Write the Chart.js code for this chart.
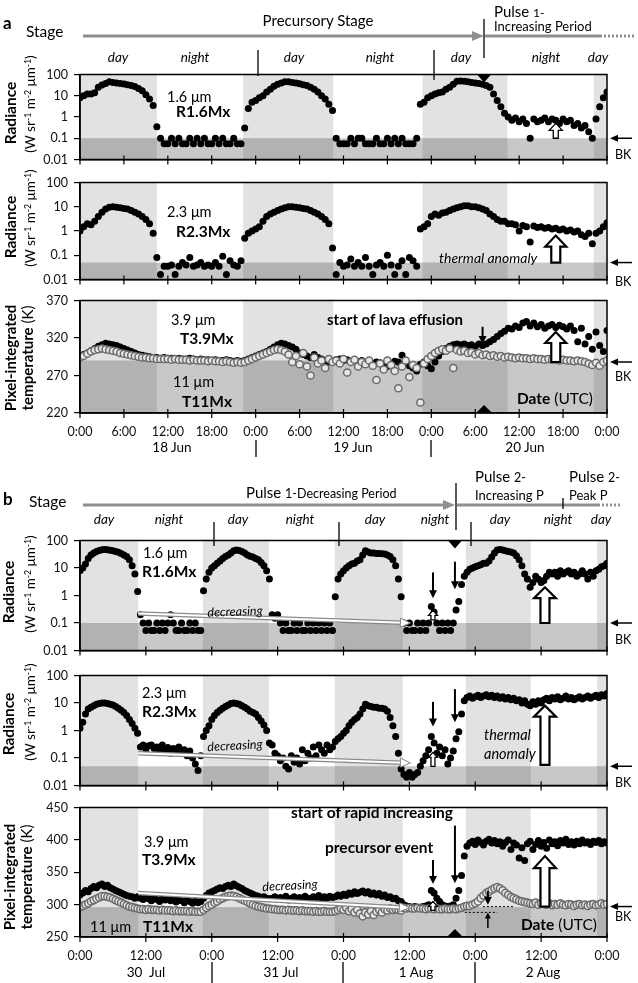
<!DOCTYPE html>
<html>
<head>
<meta charset="utf-8">
<title>Radiance and temperature time series</title>
<style>
  body { margin: 0; background: #fff; }
  #page { position: relative; width: 638px; height: 983px; overflow: hidden; font-family: Lato, 'Open Sans', sans-serif; color: #000; }
  #page canvas { position: absolute; left: 0; }
  .t { position: absolute; white-space: nowrap; line-height: 1; z-index: 5; }
  #lines { position: absolute; left: 0; top: 0; z-index: 4; }
  sup { font-size: 0.65em; vertical-align: 0.45em; line-height: 0; }
</style>
<script src="https://cdn.jsdelivr.net/npm/chart.js"></script>
</head>
<body>
<div id="page">
  <canvas id="a1"></canvas>
  <canvas id="a2"></canvas>
  <canvas id="a3"></canvas>
  <canvas id="b1"></canvas>
  <canvas id="b2"></canvas>
  <canvas id="b3"></canvas>
  <svg id="lines" width="638" height="983">
    <g stroke="#8f8f8f" stroke-width="3" fill="none">
      <line x1="83" y1="36" x2="475" y2="36"/>
      <line x1="485" y1="36" x2="600" y2="36"/>
      <line x1="600" y1="36" x2="636" y2="36" stroke-dasharray="2 2"/>
      <line x1="83" y1="505" x2="446" y2="505"/>
      <line x1="457" y1="505" x2="598" y2="505"/>
      <line x1="598" y1="505" x2="622" y2="505" stroke-dasharray="2 2"/>
    </g>
    <g fill="#8f8f8f">
      <polygon points="484,36 472,31 472,41"/>
      <polygon points="455,505 443,500 443,510"/>
    </g>
    <g stroke="#000" stroke-width="1.3">
      <line x1="484" y1="19" x2="484" y2="58"/>
      <line x1="258" y1="50" x2="258" y2="76"/>
      <line x1="434" y1="50" x2="434" y2="80"/>
      <line x1="256" y1="440" x2="256" y2="457"/>
      <line x1="431" y1="440" x2="431" y2="457"/>
      <line x1="456" y1="483" x2="456" y2="530"/>
      <line x1="563" y1="498" x2="563" y2="509"/>
      <line x1="214" y1="522" x2="214" y2="546"/>
      <line x1="339" y1="522" x2="339" y2="546"/>
      <line x1="471" y1="522" x2="471" y2="546"/>
      <line x1="212" y1="962" x2="212" y2="984"/>
      <line x1="343" y1="962" x2="343" y2="984"/>
      <line x1="475" y1="962" x2="475" y2="984"/>
    </g>
  </svg>
</div>

<script>
// ---- axes / periods ----
const stepH = 0.5; // hours between samples
const dayA = [[0, 10.5], [22.3, 34.6], [46.8, 58.4], [70.2, 72]];
const dayB = [[0, 10.6], [22.4, 34.4], [46.4, 58.8], [70.3, 82.1], [94.2, 96]];
const timeTicksA = ['0:00', '6:00', '12:00', '18:00', '0:00', '6:00', '12:00', '18:00', '0:00', '6:00', '12:00', '18:00', '0:00'];
const timeTicksB = ['0:00', '12:00', '0:00', '12:00', '0:00', '12:00', '0:00', '12:00', '0:00'];
const radTicks = [0.01, 0.1, 1, 10, 100];
const tempTicksA = [220, 270, 320, 370];
const tempTicksB = [250, 300, 350, 400, 450];

// ---- (a) 18-20 Jun, every 30 min ----
const r16a = [
  8, 10, 12, 12, 14, 25, 32, 38, 45, 42, 40, 38, 36, 33, 30, 27, 22, 17, 11, 7, 3.5, 0.35,
  0.1, 0.055, 0.055, 0.1, 0.055, 0.1, 0.055, 0.055, 0.1, 0.055, 0.1, 0.055, 0.1, 0.055, 0.055, 0.1, 0.055, 0.1, 0.055, 0.055, 0.1, 0.055, 0.055,
  0.3, 2.5, 5, 6, 8, 10, 15, 20, 28, 35, 40, 45, 45, 42, 40, 37, 33, 30, 25, 20, 15, 10, 7, 4, 2,
  0.1, 0.055, 0.055, 0.055, 0.1, 0.055, 0.1, 0.1, 0.055, 0.055, 0.055, 0.1, 0.055, 0.055, 0.1, 0.055, 0.1, 0.055, 0.1, 0.055, 0.055, 0.055, 0.1, 4,
  5, 8, 10, 12, 14, 15, 20, 25, 35, 48, 50, 48, 45, 42, 40, 38, 35, 30, 25, 12, 6, 3, 1.5, 1.0,
  0.7, 0.9, 0.6, 0.8, 0.5, 0.1, 0.8, 0.6, 0.7, 0.9, 0.6, 0.8, 0.7, 0.5, 0.8, 0.6, 0.7, 0.4, 0.5, 0.3, 0.4, 0.2, 0.1, 0.8, 3, 8, 15
];
const r23a = [
  1.0, 1.5, 2, 1.8, 2.5, 4, 6, 8, 9.5, 10, 9.5, 9, 8.5, 8, 7, 6, 5, 4, 3, 2, 0.8, 0.08,
  0.016, 0.035, 0.035, 0.04, 0.016, 0.035, 0.05, 0.04, 0.08, 0.035, 0.04, 0.05, 0.035, 0.04, 0.035, 0.05, 0.035, 0.09, 0.016, 0.06, 0.04, 0.035, 0.06,
  0.5, 0.8, 1, 1.2, 1.5, 2.5, 4, 5, 6, 7, 8, 9, 10, 10, 9.5, 9, 8.5, 8, 7, 6, 5, 4, 3, 2, 0.2,
  0.016, 0.05, 0.035, 0.04, 0.07, 0.035, 0.05, 0.035, 0.08, 0.035, 0.016, 0.04, 0.05, 0.035, 0.1, 0.04, 0.016, 0.035, 0.06, 0.016, 0.08, 0.06, 0.035, 1.2,
  1.5, 2, 4, 5, 4.5, 5.5, 6, 7, 8, 9, 10, 11, 11, 10, 10, 9, 8, 7, 5, 4, 3, 2.5, 2.5, 2,
  2, 1.8, 1, 1.7, 1.5, 0.35, 1.6, 1.4, 1.5, 1.3, 1.4, 1.2, 1.3, 1.1, 1.2, 1.0, 1.1, 0.9, 1.0, 0.7, 0.6, 0.8, 0.3, 0.8, 1, 1.5, 2.2
];
const t39a = [
  296, 298, 300, 303, 306, 309, 311, 313, 312, 311, 310, 308, 306, 304, 302, 300, 298, 297, 296, 295, 294, 294,
  293, 294, 293, 293, 292, 293, 292, 292, 293, 292, 291, 292, 291, 291, 290, 291, 290, 290, 291, 290, 289, 290, 289,
  290, 292, 294, 296, 298, 300, 302, 305, 308, 311, 313, 312, 310, 308, 305, 300, 298, 296, 294, 298, 294, 292, 290, 288, 290,
  291, 292, 290, 291, 289, 290, 288, 290, 287, 289, 286, 288, 287, 285, 282, 286, 289, 288, 297, 290, 283, 280, 276, 285,
  288, 283, 279, 288, 296, 302, 306, 309, 311, 312, 311, 312, 310, 311, 309, 312, 310, 312, 315, 318, 322, 326, 329, 333,
  332, 336, 334, 340, 342, 336, 340, 335, 338, 333, 336, 338, 334, 337, 335, 332, 336, 330, 315, 333, 312, 322, 305, 328, 310, 302, 330
];
const t11a = [
  294, 296, 299, 302, 304, 305, 306, 305, 304, 303, 302, 300, 299, 298, 297, 296, 295, 294, 294, 293, 293, 292,
  292, 292, 292, 291, 292, 291, 291, 291, 290, 291, 290, 290, 290, 289, 290, 289, 289, 288, 289, 288, 287, 288, 287,
  288, 290, 292, 294, 296, 298, 300, 302, 304, 305, 304, 302, 298, 288, 296, 285, 300, 282, 270, 294, 286, 290, 280, 292, 288,
  290, 286, 292, 274, 288, 291, 282, 288, 285, 290, 283, 264, 286, 278, 290, 284, 276, 253, 282, 290, 268, 284, 280, 234,
  286, 292, 296, 300, 303, 305, 303, 306, 280, 304, 302, 303, 300, 301, 298, 300, 297, 298, 296, 297, 295, 296, 294, 295,
  294, 293, 294, 293, 293, 292, 293, 292, 292, 291, 292, 291, 291, 290, 291, 290, 290, 289, 290, 289, 288, 286, 284, 287, 283, 288, 290
];

// ---- (b) 30 Jul - 2 Aug, every 30 min ----
const r16b = [
  8, 10, 14, 22, 30, 35, 40, 43, 46, 47, 46, 44, 42, 40, 37, 34, 30, 26, 20, 12, 6, 1.4,
  0.2, 0.1, 0.053, 0.1, 0.053, 0.053, 0.1, 0.053, 0.1, 0.053, 0.1, 0.2, 0.1, 0.053, 0.053, 0.1, 0.053, 0.053, 0.1, 0.053, 0.1, 0.053, 0.053,
  1.5, 4, 7, 10, 12, 15, 18, 22, 26, 30, 35, 42, 45, 43, 40, 35, 30, 27, 25, 22, 20, 16, 12, 8, 4,
  0.2, 0.15, 0.2, 0.1, 0.053, 0.1, 0.053, 0.053, 0.1, 0.053, 0.1, 0.053, 0.053, 0.1, 0.053, 0.1, 0.053, 0.1, 0.053, 0.1, 0.053, 0.1, 0.053,
  0.9, 4, 6, 8, 10, 12, 14, 15, 18, 20, 30, 42, 38, 35, 35, 34, 34, 33, 32, 30, 26, 20, 12, 4, 0.9,
  0.1, 0.053, 0.1, 0.053, 0.053, 0.1, 0.053, 0.1, 0.053, 0.1, 0.4, 0.25, 0.1, 0.053, 0.1, 0.053, 0.1, 0.053, 0.1, 0.3, 0.6, 2.5, 5,
  7, 9, 10, 11, 12, 13, 15, 15, 18, 25, 35, 45, 47, 45, 42, 40, 38, 35, 28, 20, 12, 6, 4, 2, 3, 5,
  4, 3, 3.5, 5, 7, 6, 7, 5, 8, 6, 7, 8, 6, 7, 5, 6, 8, 6, 4, 7, 5, 8, 9, 11, 12, 15
];
const r23b = [
  1.2, 2, 4, 6, 7, 8, 9, 9.5, 10, 10, 9.5, 9, 8.5, 7.5, 6.5, 5.5, 4.5, 3.5, 2.5, 1.8, 1.2, 0.8,
  0.25, 0.3, 0.2, 0.28, 0.3, 0.22, 0.25, 0.18, 0.3, 0.2, 0.24, 0.15, 0.22, 0.18, 0.25, 0.15, 0.2, 0.12, 0.18, 0.1, 0.06, 0.035, 0.12,
  0.6, 1, 1.5, 2.5, 3.5, 4.5, 5.5, 6.5, 7.5, 8.5, 9.5, 10, 9.5, 9, 8, 7, 6, 5, 4.5, 4, 3, 2.2, 1.6, 1, 0.35,
  0.3, 0.15, 0.12, 0.08, 0.1, 0.05, 0.04, 0.12, 0.07, 0.1, 0.06, 0.2, 0.08, 0.15, 0.1, 0.25, 0.12, 0.3, 0.2, 0.15, 0.3, 0.2, 0.25,
  0.4, 0.5, 0.6, 0.8, 1, 1.5, 2, 2.5, 3, 4, 6, 9, 8, 7.5, 7, 7, 6.5, 6.5, 6, 5, 3, 1.5, 0.6, 0.15, 0.04,
  0.025, 0.02, 0.03, 0.02, 0.025, 0.03, 0.05, 0.08, 0.12, 0.2, 0.6, 0.35, 0.15, 0.25, 0.12, 0.2, 0.06, 0.1, 0.18, 0.5, 0.9, 4, 12,
  16, 18, 15, 17, 19, 16, 18, 20, 17, 19, 16, 18, 15, 17, 14, 16, 13, 15, 12, 13, 10, 12, 9, 8, 11, 9,
  12, 10, 13, 15, 12, 16, 14, 17, 13, 15, 18, 14, 16, 13, 15, 17, 14, 16, 18, 15, 17, 19, 16, 20, 18, 22
];
const t39b = [
  315, 318, 322, 320, 325, 328, 326, 330, 332, 328, 330, 326, 324, 322, 320, 318, 316, 314, 313, 312, 310, 312,
  310, 308, 312, 309, 306, 311, 308, 305, 310, 307, 313, 306, 309, 304, 308, 306, 303, 307, 305, 302, 306, 303, 305,
  310, 314, 318, 320, 322, 324, 326, 325, 328, 330, 328, 332, 329, 327, 325, 322, 320, 318, 316, 314, 313, 311, 312, 310, 309,
  310, 312, 308, 311, 309, 313, 307, 310, 312, 308, 311, 309, 313, 310, 308, 312, 311, 314, 309, 312, 310, 313, 311,
  312, 315, 313, 316, 314, 318, 316, 320, 317, 319, 321, 318, 320, 316, 318, 315, 317, 313, 315, 311, 312, 309, 310, 306, 305,
  300, 298, 297, 296, 297, 296, 296, 297, 298, 300, 322, 318, 310, 305, 300, 298, 297, 298, 300, 310, 322, 345, 375,
  390, 395, 398, 393, 400, 396, 392, 398, 401, 395, 399, 394, 397, 390, 396, 400, 385, 395, 392, 372, 388, 368, 394, 398, 385, 393,
  399, 390, 396, 387, 400, 394, 397, 391, 399, 395, 401, 393, 397, 392, 398, 394, 400, 395, 397, 393, 398, 396, 399, 394, 397, 395
];
const t11b = [
  296, 298, 300, 302, 305, 307, 309, 311, 313, 313, 312, 311, 309, 307, 305, 303, 301, 299, 297, 296, 295, 294,
  293, 293, 292, 293, 292, 292, 292, 291, 292, 291, 291, 291, 290, 291, 290, 290, 290, 290, 289, 290, 289, 289, 289,
  292, 295, 298, 300, 303, 305, 308, 310, 312, 313, 314, 313, 312, 310, 308, 306, 304, 302, 300, 298, 297, 296, 295, 294, 294,
  293, 293, 292, 292, 292, 291, 292, 291, 291, 291, 290, 291, 290, 290, 290, 289, 290, 289, 289, 290, 289, 289, 289,
  290, 292, 294, 292, 295, 290, 293, 288, 292, 286, 282, 288, 285, 290, 284, 289, 292, 288, 293, 291, 294, 292, 293, 292, 291,
  295, 294, 295, 294, 294, 295, 294, 294, 293, 294, 294, 293, 294, 293, 293, 294, 293, 293, 294, 293, 294, 295, 297,
  298, 298, 300, 302, 305, 310, 314, 318, 320, 323, 325, 327, 325, 322, 318, 315, 312, 310, 308, 306, 305, 304, 303, 302, 301, 303,
  300, 302, 301, 300, 302, 299, 301, 300, 302, 300, 299, 301, 300, 298, 300, 301, 299, 300, 298, 300, 301, 299, 300, 302, 300, 301
];

// ---- decorations (in data coordinates of each panel) ----
const decoById = {
  a1: { days: dayA, band: 0.1, bk: 0.1, tri: [{ x: 55.2, at: 'top' }],
        hollow: [{ x: 65, y0: 0.1, y1: 0.5, sw: 5, hw: 13, hh: 7 }] },
  a2: { days: dayA, band: 0.05, bk: 0.05,
        hollow: [{ x: 65, y0: 0.05, y1: 0.65, sw: 9, hw: 21, hh: 11 }] },
  a3: { days: dayA, band: 290, bk: 288, tri: [{ x: 55.2, at: 'bottom' }],
        down: [{ x: 55, y0: 335, y1: 312 }],
        hollow: [{ x: 65, y0: 288, y1: 328, sw: 9, hw: 21, hh: 11 }] },
  b1: { days: dayB, band: 0.1, bk: 0.1, tri: [{ x: 68.3, at: 'top' }],
        down: [{ x: 64.3, y0: 6.9, y1: 0.8 }, { x: 68.3, y0: 17, y1: 1.7 }],
        hollow: [{ x: 64.3, y0: 0.13, y1: 0.29, sw: 4, hw: 9, hh: 5 }, { x: 84.7, y0: 0.1, y1: 2, sw: 9, hw: 22, hh: 11 }],
        dec: { x0: 10.6, y0: 0.22, x1: 60.2, y1: 0.1 } },
  b2: { days: dayB, band: 0.05, bk: 0.05,
        down: [{ x: 64.3, y0: 11, y1: 1.4 }, { x: 68.3, y0: 32, y1: 2 }],
        hollow: [{ x: 64.3, y0: 0.05, y1: 0.16, sw: 4, hw: 9, hh: 5 }, { x: 84.7, y0: 0.056, y1: 8, sw: 9, hw: 22, hh: 11 }],
        dec: { x0: 10.6, y0: 0.15, x1: 60.2, y1: 0.066 } },
  b3: { days: dayB, band: 296, bk: 297, tri: [{ x: 68.3, at: 'bottom' }],
        down: [{ x: 64.3, y0: 369, y1: 332 }, { x: 68.3, y0: 422, y1: 333 }, { x: 74.3, y0: 321, y1: 300 }],
        up: [{ x: 74.3, y0: 264, y1: 288 }],
        hollow: [{ x: 64.3, y0: 291, y1: 305, sw: 4, hw: 9, hh: 5 }, { x: 84.7, y0: 297, y1: 375, sw: 9, hw: 22, hh: 12 }],
        dec: { x0: 10.6, y0: 318, x1: 60, y1: 295 },
        dots: [{ x0: 73.4, x1: 79.2, y: 297 }, { x0: 70.1, x1: 76, y: 288 }] }
};

function head(ctx, tx, ty, dx, dy, len, wid) {
  const n = Math.hypot(dx, dy), ux = dx / n, uy = dy / n;
  ctx.beginPath();
  ctx.moveTo(tx, ty);
  ctx.lineTo(tx - ux * len - uy * wid / 2, ty - uy * len + ux * wid / 2);
  ctx.lineTo(tx - ux * len + uy * wid / 2, ty - uy * len - ux * wid / 2);
  ctx.closePath();
}
function arrow(ctx, x0, y0, x1, y1, lw, len, wid) {
  const n = Math.hypot(x1 - x0, y1 - y0);
  ctx.lineWidth = lw;
  ctx.beginPath();
  ctx.moveTo(x0, y0);
  ctx.lineTo(x1 - (x1 - x0) / n * len * 0.8, y1 - (y1 - y0) / n * len * 0.8);
  ctx.stroke();
  head(ctx, x1, y1, x1 - x0, y1 - y0, len, wid);
  ctx.fill();
}

const decoPlugin = {
  id: 'deco',
  beforeDraw(chart) {
    const o = decoById[chart.canvas.id];
    const { ctx, chartArea: a } = chart;
    const x = chart.scales.x, y = chart.scales.y;
    const yb = y.getPixelForValue(o.band);
    ctx.save();
    ctx.fillStyle = '#ffffff';
    ctx.fillRect(a.left, a.top, a.width, yb - a.top);
    ctx.fillStyle = '#c8c8c8';
    ctx.fillRect(a.left, yb, a.width, a.bottom - yb);
    o.days.forEach(([s, e]) => {
      const x0 = x.getPixelForValue(s), x1 = x.getPixelForValue(e);
      ctx.fillStyle = '#e2e2e2';
      ctx.fillRect(x0, a.top, x1 - x0, yb - a.top);
      ctx.fillStyle = '#b2b2b2';
      ctx.fillRect(x0, yb, x1 - x0, a.bottom - yb);
    });
    ctx.restore();
  },
  afterDraw(chart) {
    const o = decoById[chart.canvas.id];
    const { ctx, chartArea: a } = chart;
    const x = chart.scales.x, y = chart.scales.y;
    const px = v => x.getPixelForValue(v), py = v => y.getPixelForValue(v);
    ctx.save();
    ctx.strokeStyle = '#000';
    ctx.fillStyle = '#000';

    // "decreasing" double line
    if (o.dec) {
      const d = o.dec, x0 = px(d.x0), y0 = py(d.y0), x1 = px(d.x1), y1 = py(d.y1);
      const n = Math.hypot(x1 - x0, y1 - y0), ex = x1 - (x1 - x0) / n * 8, ey = y1 - (y1 - y0) / n * 8;
      ctx.lineCap = 'butt';
      ctx.strokeStyle = '#8a8a8a'; ctx.lineWidth = 4.5;
      ctx.beginPath(); ctx.moveTo(x0, y0); ctx.lineTo(ex, ey); ctx.stroke();
      ctx.strokeStyle = '#fff'; ctx.lineWidth = 2;
      ctx.beginPath(); ctx.moveTo(x0, y0); ctx.lineTo(ex + 1, ey); ctx.stroke();
      head(ctx, x1, y1, x1 - x0, y1 - y0, 10, 9);
      ctx.fillStyle = '#fff'; ctx.fill();
      ctx.strokeStyle = '#8a8a8a'; ctx.lineWidth = 1; ctx.stroke();
      ctx.strokeStyle = '#000'; ctx.fillStyle = '#000';
    }

    // frame
    ctx.lineWidth = 1.5;
    ctx.strokeRect(a.left, a.top, a.width, a.height);

    // x ticks crossing the axis line
    ctx.lineWidth = 1.2;
    x.ticks.forEach(t => {
      const xx = px(t.value);
      ctx.beginPath(); ctx.moveTo(xx, a.bottom - 4); ctx.lineTo(xx, a.bottom + 5); ctx.stroke();
    });

    // BK arrow on the right
    arrow(ctx, a.right + 25, py(o.bk), a.right + 3, py(o.bk), 1.5, 8, 7);

    // black triangles
    (o.tri || []).forEach(t => {
      const xx = px(t.x);
      ctx.beginPath();
      if (t.at === 'top') { ctx.moveTo(xx - 7, a.top); ctx.lineTo(xx + 7, a.top); ctx.lineTo(xx, a.top + 8); }
      else { ctx.moveTo(xx - 8, a.bottom); ctx.lineTo(xx + 8, a.bottom); ctx.lineTo(xx, a.bottom - 8); }
      ctx.closePath(); ctx.fill();
    });

    // solid arrows
    (o.down || []).forEach(d => arrow(ctx, px(d.x), py(d.y0), px(d.x), py(d.y1), 2, 8, 8));
    (o.up || []).forEach(d => arrow(ctx, px(d.x), py(d.y0), px(d.x), py(d.y1), 1.5, 6, 6));

    // dotted guide lines
    ctx.setLineDash([2, 2]); ctx.lineWidth = 1;
    (o.dots || []).forEach(d => {
      ctx.beginPath(); ctx.moveTo(px(d.x0), py(d.y)); ctx.lineTo(px(d.x1), py(d.y)); ctx.stroke();
    });
    ctx.setLineDash([]);

    // hollow arrows
    (o.hollow || []).forEach(h => {
      const xx = px(h.x), yb = py(h.y0), yt = py(h.y1);
      ctx.beginPath();
      ctx.moveTo(xx - h.sw / 2, yb); ctx.lineTo(xx - h.sw / 2, yt + h.hh); ctx.lineTo(xx - h.hw / 2, yt + h.hh);
      ctx.lineTo(xx, yt); ctx.lineTo(xx + h.hw / 2, yt + h.hh); ctx.lineTo(xx + h.sw / 2, yt + h.hh);
      ctx.lineTo(xx + h.sw / 2, yb); ctx.closePath();
      ctx.fillStyle = '#fff'; ctx.fill();
      ctx.lineWidth = h.sw > 6 ? 2.2 : 1.3; ctx.strokeStyle = '#000'; ctx.stroke();
    });
    ctx.restore();
  }
};
Chart.register(decoPlugin);
Chart.defaults.font.family = "Lato, 'Open Sans', sans-serif";
Chart.defaults.color = '#111';

const toPts = arr => arr.map((v, i) => ({ x: i * stepH, y: v }));
const blackDots = arr => ({ data: toPts(arr), pointRadius: 3.5, pointBackgroundColor: '#000', pointBorderWidth: 0 });
const greyRings = arr => ({ data: toPts(arr), pointRadius: 3.6, pointBackgroundColor: '#e6e6e6', pointBorderColor: '#6a6a6a', pointBorderWidth: 1.5 });

function panel(id, top, plotH, xMax, xStep, xLabels, yAxis, datasets, showX) {
  const xh = showX ? 28 : 8;
  const cv = document.getElementById(id);
  cv.width = 638;
  cv.height = 10 + plotH + xh;
  cv.style.top = (top - 10) + 'px';
  new Chart(cv, {
    type: 'scatter',
    data: { datasets },
    options: {
      responsive: false,
      animation: false,
      events: [],
      layout: { padding: { top: 10, right: 31, left: 0, bottom: 0 } },
      plugins: { legend: { display: false }, tooltip: { enabled: false } },
      scales: {
        x: {
          type: 'linear', min: 0, max: xMax,
          afterBuildTicks: s => { s.ticks = xLabels.map((_, i) => ({ value: i * xStep })); },
          afterFit: s => { s.height = xh; },
          ticks: { display: showX, callback: (v, i) => xLabels[i], autoSkip: false, maxRotation: 0, font: { size: 12.5 }, padding: 3 },
          grid: { display: false },
          border: { display: true, color: '#000', width: 1.5 }
        },
        y: Object.assign({
          afterFit: s => { s.width = 80; },
          grid: { drawOnChartArea: false, drawTicks: true, tickLength: 6, color: '#000', lineWidth: 1.2 },
          border: { display: true, color: '#000', width: 1.5 }
        }, yAxis)
      }
    }
  });
}

const radAxis = {
  type: 'logarithmic', min: 0.01, max: 100,
  afterBuildTicks: s => { s.ticks = radTicks.map(v => ({ value: v })); },
  ticks: { callback: v => String(v), font: { size: 12.5 }, padding: 6 }
};
const tempAxis = ticks => ({
  type: 'linear', min: ticks[0], max: ticks[ticks.length - 1],
  afterBuildTicks: s => { s.ticks = ticks.map(v => ({ value: v })); },
  ticks: { font: { size: 12.5 }, padding: 6 }
});

panel('a1', 71, 94, 72, 6, timeTicksA, radAxis, [blackDots(r16a)], false);
panel('a2', 179, 106, 72, 6, timeTicksA, radAxis, [blackDots(r23a)], false);
panel('a3', 297, 116, 72, 6, timeTicksA, tempAxis(tempTicksA), [greyRings(t11a), blackDots(t39a)], true);
panel('b1', 537, 119, 96, 12, timeTicksB, radAxis, [blackDots(r16b)], false);
panel('b2', 672, 119, 96, 12, timeTicksB, radAxis, [blackDots(r23b)], false);
panel('b3', 804, 133, 96, 12, timeTicksB, tempAxis(tempTicksB), [greyRings(t11b), blackDots(t39b)], true);

// ---- text ----
const page = document.getElementById('page');
function put(x, y, html, css, anchor) {
  const d = document.createElement('div');
  d.className = 't';
  d.innerHTML = html;
  d.style.cssText += css || '';
  d.style.left = x + 'px';
  d.style.top = y + 'px';
  d.style.transform = anchor === 'c' ? 'translate(-50%,-50%)'
    : anchor === 'r' ? 'translate(-50%,-50%) rotate(-90deg)'
    : anchor && anchor.startsWith('rot') ? 'translate(-50%,-50%) rotate(' + anchor.slice(3) + 'deg)'
    : 'translate(0,-50%)';
  page.appendChild(d);
}
const F = s => 'font-size:' + s + 'px;';
const B = 'font-weight:700;', I = 'font-style:italic;';
const units = '(W sr<sup>-1</sup> m<sup>-2</sup> &mu;m<sup>-1</sup>)';

// part a
put(3, 22, 'a', F(17) + B);
put(26, 32, 'Stage', F(15.5));
put(318, 20, 'Precursory Stage', F(15), 'c');
put(494, 11, 'Pulse <span style="font-size:12px">1-</span>', F(15));
put(494, 26, 'Increasing Period', F(13));
[[118, 'day'], [195, 'night'], [294, 'day'], [380, 'night'], [461, 'day'], [546, 'night'], [598, 'day']]
  .forEach(([x, s]) => put(x, 58, s, F(13.5) + I, 'c'));
put(11, 113, 'Radiance', F(15.5) + B, 'r');
put(31, 104, units, F(13.5), 'r');
put(11, 227, 'Radiance', F(15.5) + B, 'r');
put(31, 218, units, F(13.5), 'r');
put(10, 358, 'Pixel-integrated', F(15) + B, 'r');
put(27, 358, '<b>temperature</b> (K)', F(15), 'r');
put(167, 97, '1.6 &mu;m', F(14.5));
put(176, 112, 'R1.6Mx', F(15.5) + B);
put(167, 212, '2.3 &mu;m', F(14.5));
put(176, 232, 'R2.3Mx', F(15.5) + B);
put(171, 320, '3.9 &mu;m', F(14.5));
put(180, 339, 'T3.9Mx', F(15.5) + B);
put(173, 382, '11 &mu;m', F(14.5));
put(182, 402, 'T11Mx', F(15.5) + B);
put(327, 319, 'start of lava effusion', F(15) + B);
put(439, 258, 'thermal anomaly', F(14) + I);
put(517, 399, '<b>Date</b> (UTC)', F(15.5));
[155, 282, 377].forEach(y => put(615, y, 'BK', F(12.5)));
[[172, '18 Jun'], [353, '19 Jun'], [525, '20 Jun']].forEach(([x, s]) => put(x, 448, s, F(13.5), 'c'));

// part b
put(3, 498, 'b', F(17) + B);
put(29, 502, 'Stage', F(15.5));
put(246, 493, 'Pulse <span style="font-size:12.5px">1-Decreasing Period</span>', F(15));
put(475, 477, 'Pulse <span style="font-size:12.5px">2-</span>', F(15));
put(475, 495, 'Increasing P', F(13));
put(569, 477, 'Pulse <span style="font-size:12.5px">2-</span>', F(15));
put(569, 495, 'Peak P', F(13));
[[104, 'day'], [169, 'night'], [238, 'day'], [300, 'night'], [375, 'day'], [435, 'night'], [500, 'day'], [558, 'night'], [601, 'day']]
  .forEach(([x, s]) => put(x, 520, s, F(13.5) + I, 'c'));
put(9, 592, 'Radiance', F(15.5) + B, 'r');
put(31, 584, units, F(13.5), 'r');
put(9, 724, 'Radiance', F(15.5) + B, 'r');
put(31, 712, units, F(13.5), 'r');
put(9, 877, 'Pixel-integrated', F(15) + B, 'r');
put(26, 877, '<b>temperature</b> (K)', F(15), 'r');
put(143, 553, '1.6 &mu;m', F(14.5));
put(142, 572, 'R1.6Mx', F(15.5) + B);
put(142, 693, '2.3 &mu;m', F(14.5));
put(142, 712, 'R2.3Mx', F(15.5) + B);
put(144, 842, '3.9 &mu;m', F(14.5));
put(142, 860, 'T3.9Mx', F(15.5) + B);
put(90, 927, '11 &mu;m', F(14.5));
put(143, 927, 'T11Mx', F(15.5) + B);
put(235, 612, 'decreasing', F(12.5) + I, 'rot-2');
put(235, 746, 'decreasing', F(12.5) + I, 'rot-3');
put(290, 886, 'decreasing', F(12.5) + I, 'rot-3');
put(291, 813, 'start of rapid increasing', F(15.5) + B);
put(325, 848, 'precursor event', F(15.5) + B);
put(484, 735, 'thermal', F(14.5) + I);
put(484, 754, 'anomaly', F(14.5) + I);
put(521, 925, '<b>Date</b> (UTC)', F(15.5));
[640, 783, 917].forEach(y => put(615, y, 'BK', F(12.5)));
[[146, '30&nbsp; Jul'], [281, '31 Jul'], [416, '1 Aug'], [543, '2 Aug']].forEach(([x, s]) => put(x, 973, s, F(13.5), 'c'));
</script>
</body>
</html>
